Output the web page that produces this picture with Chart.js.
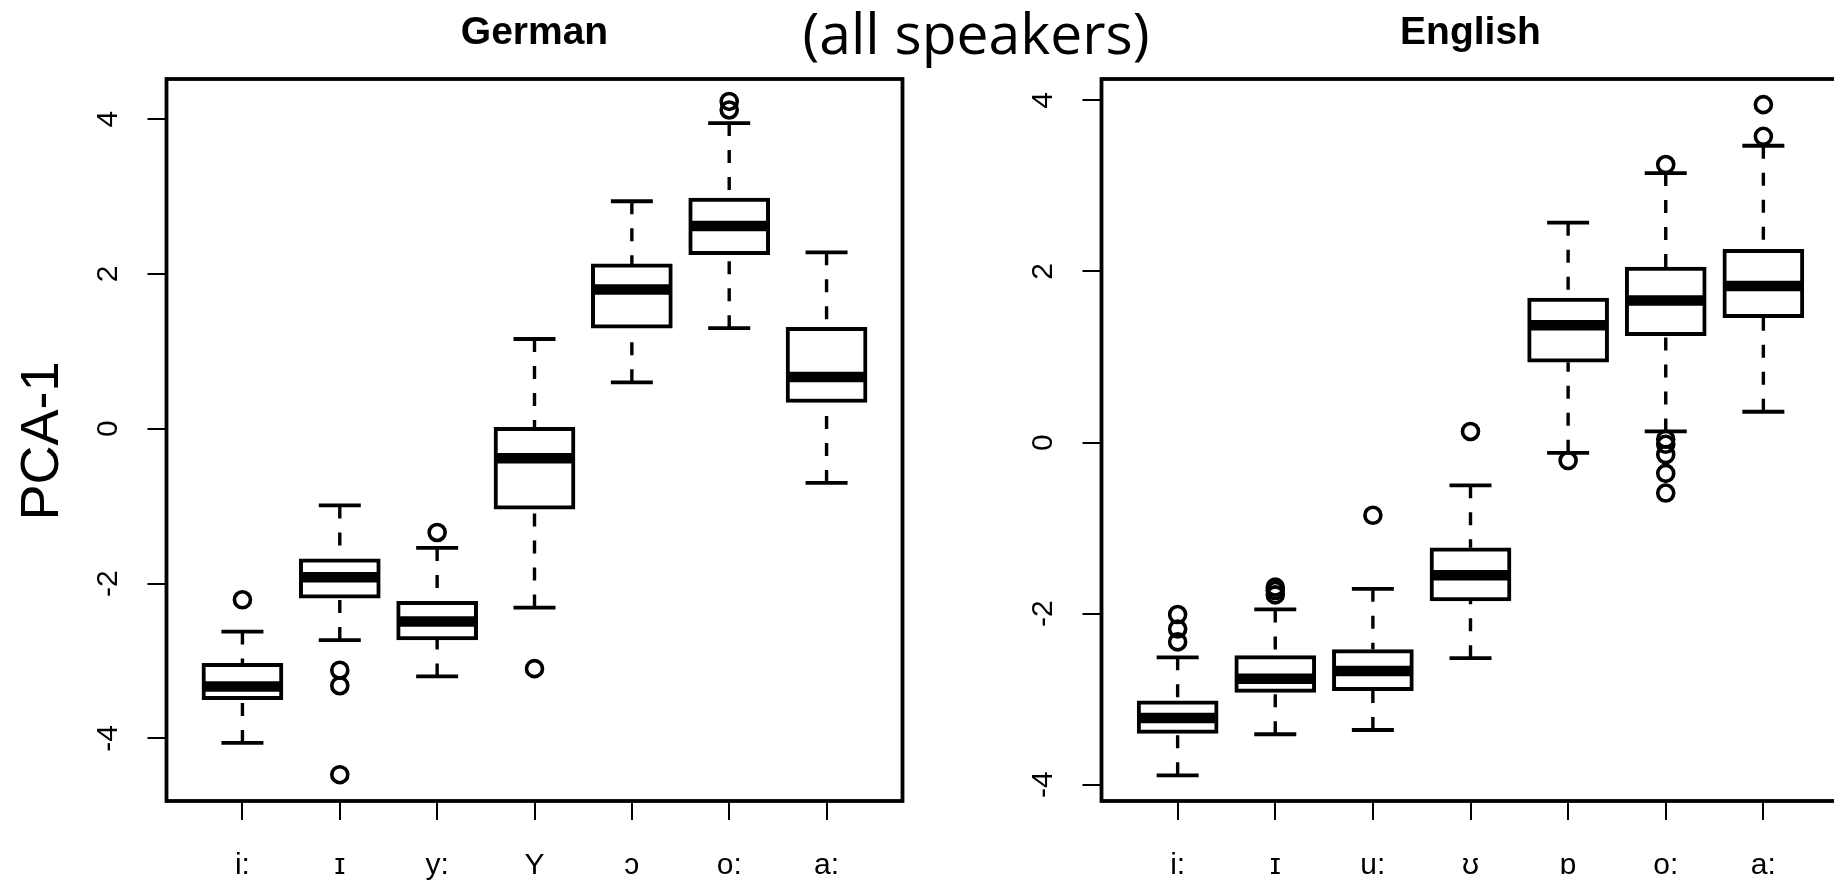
<!DOCTYPE html>
<html>
<head>
<meta charset="utf-8">
<script src="https://cdn.jsdelivr.net/npm/chart.js@4.4.1/dist/chart.umd.min.js"></script>
<style>
    html, body { margin: 0; padding: 0; background: #fff; overflow: hidden; width: 1834px; height: 883px; }
    canvas { position: absolute; top: 0; }
    #german { left: 0; }
    #english { left: 935px; }
    #subtitle {
        position: absolute; left: 976px; top: 4px; transform: translateX(-50%);
        font-family: "Open Sans", sans-serif; font-size: 57px; line-height: 1; white-space: nowrap; z-index: 2;
    }
</style>
</head>
<body>
<div id="subtitle">(all speakers)</div>
<canvas id="german" width="920" height="883"></canvas>
<canvas id="english" width="922" height="883"></canvas>
<script>
// tick values shared by both panels
const yTicks = [-4, -2, 0, 2, 4];

// German vowels
const germanLabels = ['i:', 'ɪ', 'y:', 'Y', 'ɔ', 'o:', 'a:'];
const germanLow = [-4.06, -2.73, -3.20, -2.31, 0.60, 1.30, -0.70];
const germanQ1 = [-3.50, -2.19, -2.73, -1.04, 1.30, 2.25, 0.34];
const germanMedian = [-3.33, -1.92, -2.49, -0.38, 1.80, 2.62, 0.67];
const germanQ3 = [-3.03, -1.68, -2.23, 0.02, 2.13, 2.98, 1.31];
const germanHigh = [-2.62, -0.99, -1.54, 1.16, 2.94, 3.95, 2.28];
const germanOutliers = [[-2.21], [-3.12, -3.32, -4.47], [-1.34], [-3.10], [], [4.12, 4.23], []];

// English vowels
const englishLabels = ['i:', 'ɪ', 'u:', 'ʊ', 'ɒ', 'o:', 'a:'];
const englishLow = [-3.89, -3.41, -3.36, -2.52, -0.12, 0.13, 0.36];
const englishQ1 = [-3.40, -2.92, -2.90, -1.85, 0.94, 1.25, 1.46];
const englishMedian = [-3.22, -2.76, -2.67, -1.55, 1.37, 1.66, 1.83];
const englishQ3 = [-3.02, -2.49, -2.42, -1.23, 1.69, 2.05, 2.26];
const englishHigh = [-2.51, -1.95, -1.71, -0.50, 2.57, 3.15, 3.47];
const englishOutliers = [[-2.01, -2.18, -2.33], [-1.69, -1.73, -1.78], [-0.85], [0.13], [-0.21],
    [3.25, 0.04, -0.02, -0.14, -0.36, -0.59], [3.58, 3.95]];

const FONT = '"Liberation Sans", Arial, sans-serif';

// frame, rotated y labels and panel titles, like R's base graphics
const panelDecor = {
    id: 'panelDecor',
    afterDraw(chart, args, opts) {
        const { ctx, chartArea: a } = chart;
        const y = chart.scales.y;
        ctx.save();
        ctx.strokeStyle = '#000';
        ctx.lineWidth = 3.8;
        ctx.strokeRect(a.left, a.top, a.right - a.left, a.bottom - a.top);

        ctx.fillStyle = '#000';
        ctx.textAlign = 'center';
        ctx.textBaseline = 'alphabetic';
        ctx.font = '30px ' + FONT;
        yTicks.forEach(v => {
            ctx.save();
            ctx.translate(a.left - 60, y.getPixelForValue(v));
            ctx.rotate(-Math.PI / 2);
            ctx.fillText(String(v), 0, 30 * 0.358);
            ctx.restore();
        });

        ctx.font = 'bold 39px ' + FONT;
        ctx.fillText(opts.title, (a.left + a.right) / 2, 30 + 39 * 0.358);

        if (opts.yTitle) {
            ctx.save();
            ctx.font = '54px ' + FONT;
            ctx.translate(39, 441);
            ctx.rotate(-Math.PI / 2);
            ctx.fillText(opts.yTitle, 0, 54 * 0.358);
            ctx.restore();
        }
        ctx.restore();
    }
};

function makePanel(id, title, yTitle, labels, low, q1, med, q3, high, outliers, yMin, yMax) {
    const pos = labels.map((_, i) => i + 1);

    const whiskers = [];
    pos.forEach((x, i) => {
        whiskers.push({ x, y: high[i] }, { x, y: q3[i] }, { x, y: null });
        whiskers.push({ x, y: low[i] }, { x, y: q1[i] }, { x, y: null });
    });
    const caps = [];
    pos.forEach((x, i) => caps.push({ x, y: high[i] }, { x, y: low[i] }));
    const outPts = [];
    outliers.forEach((list, i) => list.forEach(v => outPts.push({ x: i + 1, y: v })));

    return new Chart(document.getElementById(id), {
        type: 'bar',
        data: {
            datasets: [
                {
                    type: 'line',
                    data: whiskers,
                    borderColor: '#000',
                    borderWidth: 3.4,
                    borderDash: [13, 14],
                    pointRadius: 0,
                    spanGaps: false,
                    order: 5
                },
                {
                    type: 'scatter',
                    data: caps,
                    pointStyle: 'line',
                    pointRadius: 21,
                    borderColor: '#000',
                    borderWidth: 3.8,
                    order: 4
                },
                {
                    type: 'bar',
                    data: pos.map((x, i) => ({ x, y: [q1[i], q3[i]] })),
                    backgroundColor: '#fff',
                    borderColor: '#000',
                    borderWidth: 4,
                    borderSkipped: false,
                    barThickness: 81,
                    order: 3
                },
                {
                    type: 'scatter',
                    data: pos.map((x, i) => ({ x, y: med[i] })),
                    pointStyle: 'line',
                    pointRadius: 39,
                    borderColor: '#000',
                    borderWidth: 10.5,
                    order: 2
                },
                {
                    type: 'scatter',
                    data: outPts,
                    pointStyle: 'circle',
                    pointRadius: 8,
                    backgroundColor: 'rgba(0,0,0,0)',
                    borderColor: '#000',
                    borderWidth: 3.6,
                    order: 1
                }
            ]
        },
        options: {
            responsive: false,
            animation: false,
            events: [],
            layout: { autoPadding: false, padding: { top: 79, right: 17.5, left: 0, bottom: 0 } },
            plugins: {
                legend: { display: false },
                tooltip: { enabled: false },
                panelDecor: { title, yTitle }
            },
            scales: {
                x: {
                    type: 'linear',
                    offset: false,
                    min: 0.22,
                    max: 7.78,
                    afterBuildTicks: s => { s.ticks = pos.map(v => ({ value: v })); },
                    afterFit: s => { s.height = 82; s.paddingLeft = 0; s.paddingRight = 0; },
                    grid: { offset: false, drawOnChartArea: false, drawTicks: true, tickLength: 19, color: '#000', lineWidth: 2 },
                    border: { display: false },
                    ticks: {
                        autoSkip: false,
                        maxRotation: 0,
                        padding: 28,
                        color: '#000',
                        font: { family: FONT, size: 30 },
                        callback: v => labels[v - 1]
                    }
                },
                y: {
                    min: yMin,
                    max: yMax,
                    afterBuildTicks: s => { s.ticks = yTicks.map(v => ({ value: v })); },
                    afterFit: s => { s.width = 166.5; s.paddingTop = 0; s.paddingBottom = 0; },
                    grid: { drawOnChartArea: false, drawTicks: true, tickLength: 19, color: '#000', lineWidth: 2 },
                    border: { display: false },
                    ticks: { display: false }
                }
            }
        },
        plugins: [panelDecor]
    });
}

makePanel('german', 'German', 'PCA-1', germanLabels, germanLow, germanQ1, germanMedian, germanQ3, germanHigh,
    germanOutliers, -4.81, 4.52);
makePanel('english', 'English', null, englishLabels, englishLow, englishQ1, englishMedian, englishQ3, englishHigh,
    englishOutliers, -4.19, 4.25);
</script>
</body>
</html>
